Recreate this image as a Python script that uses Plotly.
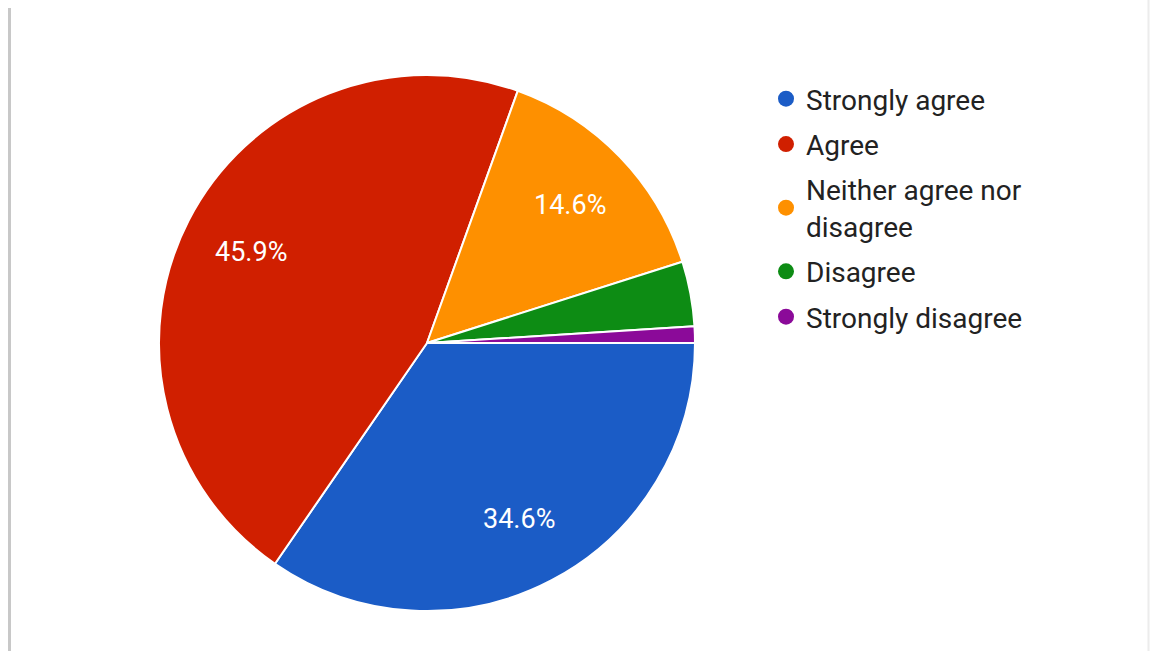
import math
import plotly.graph_objects as go

# Survey responses (percent of respondents)
categories = ["Strongly agree", "Agree", "Neither agree nor disagree", "Disagree", "Strongly disagree"]
legend_names = ["Strongly agree", "Agree", "Neither agree nor<br>disagree", "Disagree", "Strongly disagree"]
shares = [34.6, 45.9, 14.6, 3.9, 1.0]
colors = ["#1b5cc6", "#d01f00", "#fe9000", "#0d8c14", "#8b0a99"]

W, H = 1152, 651
cx, cy, r = 427, 343, 268      # pie centre / radius in pixels
START_DEG = 90                 # first slice starts at 3 o'clock, going clockwise
LABEL_RADIUS = 0.74            # percentage labels sit at this fraction of the radius
MIN_LABEL_SHARE = 5            # smaller slices get no label

fig = go.Figure()
fig.add_trace(go.Pie(
    labels=categories,
    values=shares,
    textinfo="none",
    marker=dict(colors=colors, line=dict(color="#ffffff", width=2)),
    sort=False,
    direction="clockwise",
    rotation=START_DEG,
    showlegend=False,
    hoverinfo="label+percent",
    domain=dict(x=[(cx - r) / W, (cx + r) / W], y=[(H - cy - r) / H, (H - cy + r) / H]),
))

# percentage labels placed at each slice's mid-angle
total = sum(shares)
annotations = []
cum = 0.0
for v in shares:
    mid = (cum + v / 2) / total * 2 * math.pi   # clockwise from 3 o'clock
    cum += v
    if v < MIN_LABEL_SHARE:
        continue
    px = cx + LABEL_RADIUS * r * math.cos(mid)
    py = cy + LABEL_RADIUS * r * math.sin(mid)
    annotations.append(dict(
        x=px / W, y=(H - py) / H, xref="paper", yref="paper",
        text=f"{v:.1f}%", showarrow=False, xanchor="center", yanchor="middle",
        font=dict(family="Roboto, Arial, sans-serif", size=27, color="#ffffff"),
    ))

# legend entries with round swatches
for i, (name, col) in enumerate(zip(legend_names, colors)):
    fig.add_trace(go.Scatter(
        x=[None], y=[None], mode="markers", name=name,
        legendgroup=f"g{i}",
        marker=dict(symbol="circle", size=16, color=col),
        showlegend=True,
    ))

fig.update_layout(
    width=W, height=H,
    margin=dict(l=0, r=0, t=0, b=0),
    paper_bgcolor="#ffffff",
    plot_bgcolor="#ffffff",
    xaxis=dict(visible=False),
    yaxis=dict(visible=False),
    annotations=annotations,
    legend=dict(
        x=766 / W, y=1 - 74 / H, xanchor="left", yanchor="top",
        font=dict(family="Roboto, Arial, sans-serif", size=28, color="#222222"),
        traceorder="grouped", tracegroupgap=6,
        itemsizing="trace", bgcolor="rgba(0,0,0,0)",
    ),
    shapes=[
        dict(type="line", xref="paper", yref="paper", x0=9.5 / W, x1=9.5 / W, y0=0, y1=1 - 8 / H,
             line=dict(color="#c8c8c8", width=3)),
        dict(type="line", xref="paper", yref="paper", x0=1148.5 / W, x1=1148.5 / W, y0=0, y1=1,
             line=dict(color="#ececec", width=2)),
    ],
)

fig.write_html("out.html")
